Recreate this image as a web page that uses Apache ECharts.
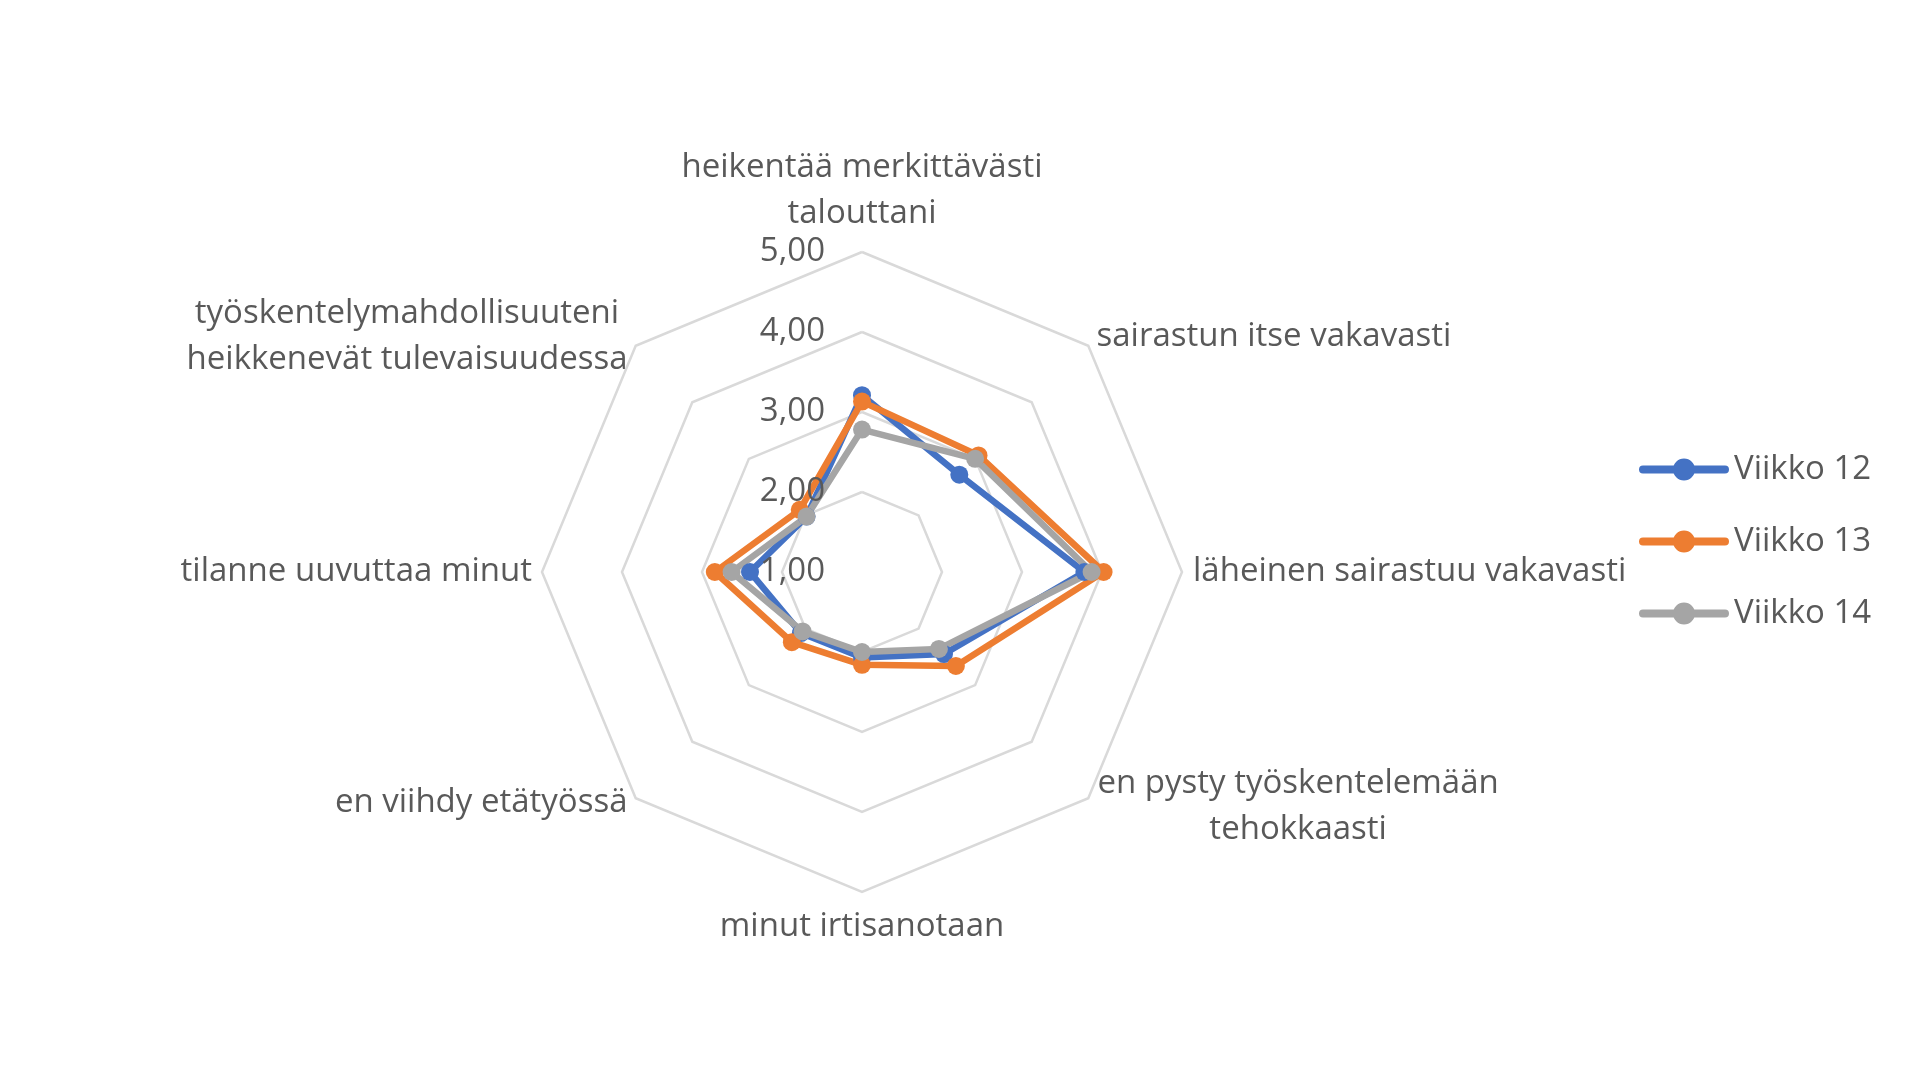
<!DOCTYPE html>
<html>
<head>
<meta charset="utf-8">
<script src="https://cdn.jsdelivr.net/npm/echarts@6/dist/echarts.min.js"></script>
<style>
  html, body { margin: 0; padding: 0; background: #fff; }
  #chart { width: 1920px; height: 1080px; }
</style>
</head>
<body>
<div id="chart"></div>
<script>
// kategoriat myötäpäivään ylhäältä alkaen
const categories = [
  'heikentää merkittävästi\ntalouttani',
  'sairastun itse vakavasti',
  'läheinen sairastuu vakavasti',
  'en pysty työskentelemään\ntehokkaasti',
  'minut irtisanotaan',
  'en viihdy etätyössä',
  'tilanne uuvuttaa minut',
  'työskentelymahdollisuuteni\nheikkenevät tulevaisuudessa'
];
const seriesNames = ['Viikko 12', 'Viikko 13', 'Viikko 14'];
const viikko12 = [3.21, 2.72, 3.78, 2.45, 2.07, 2.08, 2.40, 1.98];
const viikko13 = [3.13, 3.06, 4.02, 2.66, 2.16, 2.24, 2.84, 2.10];
const viikko14 = [2.78, 3.00, 3.87, 2.36, 2.00, 2.05, 2.63, 1.98];
const tickLabels = ['1,00', '2,00', '3,00', '4,00', '5,00'];

const colors = ['#4472C4', '#ED7D31', '#A5A5A5'];
const textColor = '#595959';
const fontFamily = '"Open Sans", Lato, sans-serif';
const fontSize = 33;

// echarts piirtää radarin akselit vastapäivään -> järjestetään
const order = [0, 7, 6, 5, 4, 3, 2, 1];
const reorder = arr => order.map(i => arr[i]);

// nimien sijoitus: rich-tyyli per akseli
const nameStyle = ['t', 'ur', 'r', 'lr', 'b', 'l', 'l', 'ul'];
const nameFormatter = (name) => {
  const st = nameStyle[categories.indexOf(name)];
  return name.split('\n').map(ln => '{' + st + '|' + ln + '}').join('\n');
};
const baseText = { color: textColor, fontSize: fontSize, fontFamily: fontFamily, lineHeight: 46, align: 'center' };
const withPad = p => Object.assign({}, baseText, { padding: p });

const myChart = echarts.init(document.getElementById('chart'));
const option = {
  animation: false,
  color: colors,
  legend: {
    orient: 'vertical',
    left: 1634,
    top: 448,
    itemWidth: 90,
    itemHeight: 22,
    itemGap: 39,
    icon: 'path://M4,7 L86,7 A4,4 0 0 1 86,15 L4,15 A4,4 0 0 1 4,7 Z M34,11 A11,11 0 1 1 56,11 A11,11 0 1 1 34,11 Z',
    textStyle: { color: textColor, fontSize: fontSize, fontFamily: fontFamily, lineHeight: 22 },
    data: seriesNames
  },
  radar: {
    center: [862, 572],
    radius: 320,
    startAngle: 90,
    shape: 'polygon',
    splitNumber: 4,
    nameGap: 6,
    axisName: {
      formatter: nameFormatter,
      rich: {
        t: withPad([0, 0, 18, 0]),
        b: withPad([12, 0, 0, 0]),
        r: withPad([0, 0, 0, 5]),
        lr: withPad([8, 0, 0, 5]),
        ur: withPad([0, 0, 10, 4]),
        l: withPad([0, 4, 0, 0]),
        ul: withPad([0, 4, 10, 0])
      }
    },
    axisLine: { show: false },
    axisTick: { show: false },
    splitArea: { show: false },
    splitLine: { lineStyle: { color: '#D9D9D9', width: 2.5 } },
    indicator: reorder(categories).map(n => ({ name: n, min: 1, max: 5 }))
  },
  polar: { center: [862, 572], radius: 320 },
  angleAxis: { show: false, startAngle: 90, min: 0, max: 360 },
  radiusAxis: {
    min: 1,
    max: 5,
    interval: 1,
    z: 20,
    axisLine: { show: false },
    axisTick: { show: false },
    splitLine: { show: false },
    axisLabel: {
      margin: 37,
      color: textColor,
      fontSize: fontSize,
      fontFamily: fontFamily,
      formatter: v => tickLabels[Math.round(v) - 1]
    }
  },
  series: [{
    type: 'radar',
    symbol: 'circle',
    symbolSize: 18,
    z: 3,
    data: [viikko12, viikko13, viikko14].map((vals, i) => ({
      name: seriesNames[i],
      value: reorder(vals),
      lineStyle: { width: 6.5, color: colors[i] },
      itemStyle: { color: colors[i] }
    }))
  }]
};
myChart.setOption(option);
</script>
</body>
</html>
